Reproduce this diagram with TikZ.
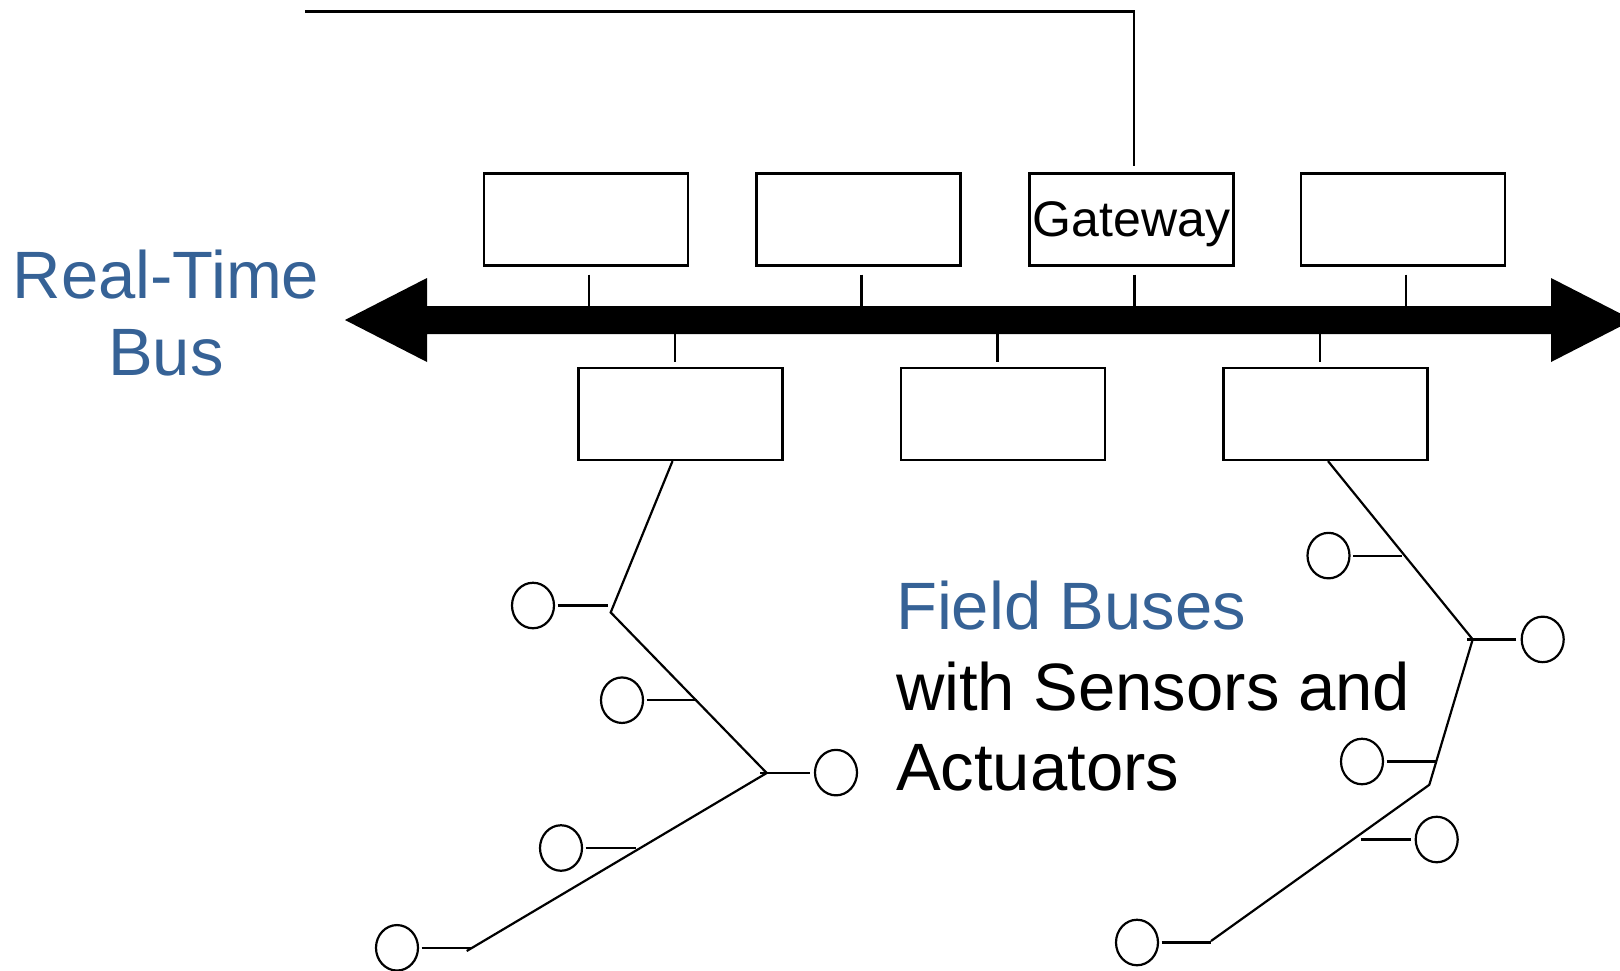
\documentclass[tikz,border=0pt]{standalone}
\usepackage{fontspec}
\setmainfont{Liberation Sans}
\usetikzlibrary{shapes.geometric}
\definecolor{tblue}{RGB}{54,98,150}
\begin{document}
\begin{tikzpicture}[x=1pt,y=-1pt,line width=2.2pt,
  box/.style={draw,minimum width=204pt,minimum height=92pt,inner sep=0pt},
  dev/.style={draw,ellipse,minimum width=42pt,minimum height=45.5pt,inner sep=0pt},
  big/.style={inner sep=0pt}]
\clip (0,0) rectangle (1620,970);
% upper stations
\node[box] (t1) at (586,219.5) {};
\node[box] (t2) at (858.5,219.5) {};
\node[box,font=\fontsize{50}{60}\selectfont,text depth=0pt] (gw) at (1131.5,219.5) {Gateway};
\node[box] (t4) at (1403,219.5) {};
% lower stations
\node[box] (b1) at (680.5,414) {};
\node[box] (b2) at (1003,414) {};
\node[box] (b3) at (1325.5,414) {};
% real-time bus
\coordinate (busL) at (345,320);
\coordinate (busR) at (1633,320);
\coordinate (bt) at (0,306);
\coordinate (bb) at (0,334);
\fill (busL) -- ++(82,-42) -- ++(0,28) -- ++(1124,0) -- ++(0,-28) -- (busR)
  -- ++(-82,42) -- ++(0,-28) -- ++(-1124,0) -- ++(0,28) -- cycle;
% stubs to bus
\foreach \n in {t1,t2,gw,t4}
  \draw[shorten <=8pt] ([xshift=3pt]\n.south) -- ([xshift=3pt]\n.south |- bt);
\foreach \n in {b1,b2,b3}
  \draw[shorten >=5pt] ([xshift=-5.5pt]\n.north |- bb) -- ([xshift=-5.5pt]\n.north);
% gateway uplink
\coordinate (topL) at (305,11.5);
\draw[shorten >=6.5pt] (topL) -| ([xshift=2.5pt]gw.north);
% left field bus
\coordinate (j1) at (610.7,612.4);
\coordinate (j2) at (766.7,773);
\coordinate (j3) at (466.7,951);
\draw ([xshift=-8pt]b1.south) -- (j1) -- (j2) -- (j3);
\node[dev] (c1) at (533,605.5) {};
\node[dev] (c2) at (622,700.2) {};
\node[dev] (c3) at (836,772.6) {};
\node[dev] (c4) at (561,848) {};
\node[dev] (c5) at (397,947.8) {};
\draw ([xshift=2.5pt]c1.east) -- ++(50,0) coordinate (s1);
\draw ([xshift=2.5pt]c2.east) -- ++(50,0) coordinate (s2);
\draw ([xshift=-4pt]c3.west) -- ++(-50,0) coordinate (s3);
\draw ([xshift=2.5pt]c4.east) -- ++(50,0) coordinate (s4);
\draw ([xshift=2.5pt]c5.east) -- ++(50,0) coordinate (s5);
% right field bus
\coordinate (k1) at (1472.7,639.4);
\coordinate (k2) at (1429.3,784.8);
\coordinate (k3) at (1211,941);
\draw ([xshift=2.5pt]b3.south) -- (k1) -- (k2) -- (k3);
\node[dev] (d1) at (1328.5,555.6) {};
\node[dev] (d2) at (1542.7,639.4) {};
\node[dev] (d3) at (1362,761.5) {};
\node[dev] (d4) at (1436.7,839.5) {};
\node[dev] (d5) at (1137,942.5) {};
\draw ([xshift=2.5pt]d1.east) -- ++(49,0) coordinate (r1);
\draw ([xshift=-4.5pt]d2.west) -- ++(-49,0) coordinate (r2);
\draw ([xshift=2.5pt]d3.east) -- ++(49,0) coordinate (r3);
\draw ([xshift=-4pt]d4.west) -- ++(-50,0) coordinate (r4);
\draw ([xshift=2.5pt]d5.east) -- ++(49,0) coordinate (r5);
% labels
\node[big,text=tblue,align=center,anchor=north,font=\fontsize{67}{77.5}\selectfont] (rtb) at (166,248.5) {Real-Time\\Bus};
\node[big,align=left,anchor=north west,font=\fontsize{67}{80.5}\selectfont] (fb) at (895,580)
  {{\color{tblue}Field Buses}\\with Sensors and\\Actuators};
\end{tikzpicture}
\end{document}
